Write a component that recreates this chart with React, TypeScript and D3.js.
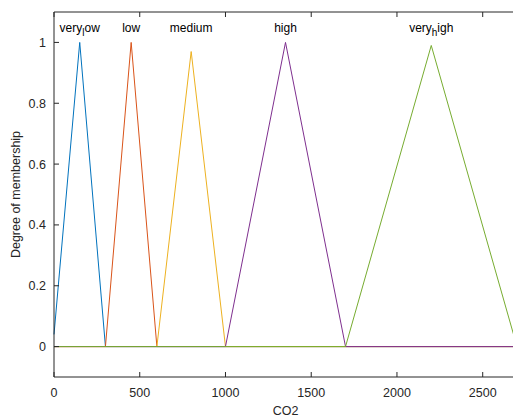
import React, { useRef, useEffect } from 'react';
import * as d3 from 'd3';

// membership functions for CO2 (vertices)
const names = ["very_low", "low", "medium", "high", "very_high"];
const colors = ["#0072BD", "#D95319", "#EDB120", "#7E2F8E", "#77AC30"];

const veryLowX = [0, 150, 300, 2700];
const veryLowY = [0.04, 1, 0, 0];
const lowX = [0, 300, 450, 600, 2700];
const lowY = [0, 0, 1, 0, 0];
const mediumX = [0, 600, 800, 1000, 2700];
const mediumY = [0, 0, 0.97, 0, 0];
const highX = [0, 1000, 1350, 1700, 2700];
const highY = [0, 0, 1, 0, 0];
const veryHighX = [0, 1700, 2200, 2700];
const veryHighY = [0, 0, 0.99, 0];

const peaks = [150, 450, 800, 1350, 2200];

const xTicks = [0, 500, 1000, 1500, 2000, 2500];
const yTicks = [0, 0.2, 0.4, 0.6, 0.8, 1];

const App = () => {
    const ref = useRef<SVGSVGElement>(null);

    useEffect(() => {
        const svg = d3.select(ref.current);
        svg.selectAll("*").remove();

        const width = 513;
        const height = 420;
        const margin = { top: 12, right: -4, bottom: 43, left: 54 };
        const font = "'Liberation Sans', Arial, Helvetica, sans-serif";
        const axisColor = "#262626";

        const x = d3.scaleLinear()
            .domain([0, 2700])
            .range([margin.left, width - margin.right]);

        const y = d3.scaleLinear()
            .domain([-0.1, 1.1])
            .range([height - margin.bottom, margin.top]);

        svg.append("rect")
            .attr("width", width)
            .attr("height", height)
            .attr("fill", "#fff");

        const series = [
            [veryLowX, veryLowY],
            [lowX, lowY],
            [mediumX, mediumY],
            [highX, highY],
            [veryHighX, veryHighY],
        ];

        const line = d3.line<[number, number]>()
            .x(d => x(d[0]))
            .y(d => y(d[1]));

        series.forEach(([xs, ys], i) => {
            const pts = xs.map((v, j) => [v, ys[j]] as [number, number]);
            svg.append("path")
                .attr("d", line(pts))
                .attr("fill", "none")
                .attr("stroke", colors[i])
                .attr("stroke-width", 1);
        });

        // box
        const x0 = x(0), x1 = x(2700), y0 = y(-0.1), y1 = y(1.1);
        svg.append("path")
            .attr("d", `M${x1},${y0}H${x0}V${y1}H${x1}V${y0}`)
            .attr("fill", "none")
            .attr("stroke", axisColor)
            .attr("stroke-width", 1);

        const tickLen = 5;

        // x ticks (inward, bottom and top)
        xTicks.forEach(t => {
            svg.append("line")
                .attr("x1", x(t)).attr("x2", x(t))
                .attr("y1", y0).attr("y2", y0 - tickLen)
                .attr("stroke", axisColor);
            svg.append("line")
                .attr("x1", x(t)).attr("x2", x(t))
                .attr("y1", y1).attr("y2", y1 + tickLen)
                .attr("stroke", axisColor);
            svg.append("text")
                .attr("x", x(t))
                .attr("y", y0 + 20)
                .attr("text-anchor", "middle")
                .attr("font-family", font)
                .attr("font-size", 12.5)
                .attr("fill", axisColor)
                .text(t);
        });

        // y ticks
        yTicks.forEach(t => {
            svg.append("line")
                .attr("x1", x0).attr("x2", x0 + tickLen)
                .attr("y1", y(t)).attr("y2", y(t))
                .attr("stroke", axisColor);
            svg.append("text")
                .attr("x", x0 - 8)
                .attr("y", y(t) + 4.5)
                .attr("text-anchor", "end")
                .attr("font-family", font)
                .attr("font-size", 12.5)
                .attr("fill", axisColor)
                .text(t);
        });

        // axis labels
        svg.append("text")
            .attr("x", (x0 + x1) / 2)
            .attr("y", height - 5)
            .attr("text-anchor", "middle")
            .attr("font-family", font)
            .attr("font-size", 12.5)
            .attr("fill", axisColor)
            .text("CO2");

        svg.append("text")
            .attr("transform", `translate(20, ${(y0 + y1) / 2}) rotate(-90)`)
            .attr("text-anchor", "middle")
            .attr("font-family", font)
            .attr("font-size", 12.5)
            .attr("fill", axisColor)
            .text("Degree of membership");

        // mf names, underscore rendered as TeX subscript
        names.forEach((name, i) => {
            const t = svg.append("text")
                .attr("x", x(peaks[i]))
                .attr("y", y(1.035))
                .attr("text-anchor", "middle")
                .attr("font-family", font)
                .attr("font-size", 12)
                .attr("fill", "#000");
            const k = name.indexOf("_");
            if (k < 0) {
                t.text(name);
            } else {
                t.append("tspan").text(name.slice(0, k));
                t.append("tspan")
                    .attr("font-size", 10)
                    .attr("dy", 4)
                    .text(name[k + 1]);
                t.append("tspan")
                    .attr("dy", -4)
                    .text(name.slice(k + 2));
            }
        });
    }, []);

    return (
        <svg
            ref={ref}
            width={513}
            height={420}
            style={{ position: "absolute", left: 0, top: 0 }}
        ></svg>
    );
};

export default App;
